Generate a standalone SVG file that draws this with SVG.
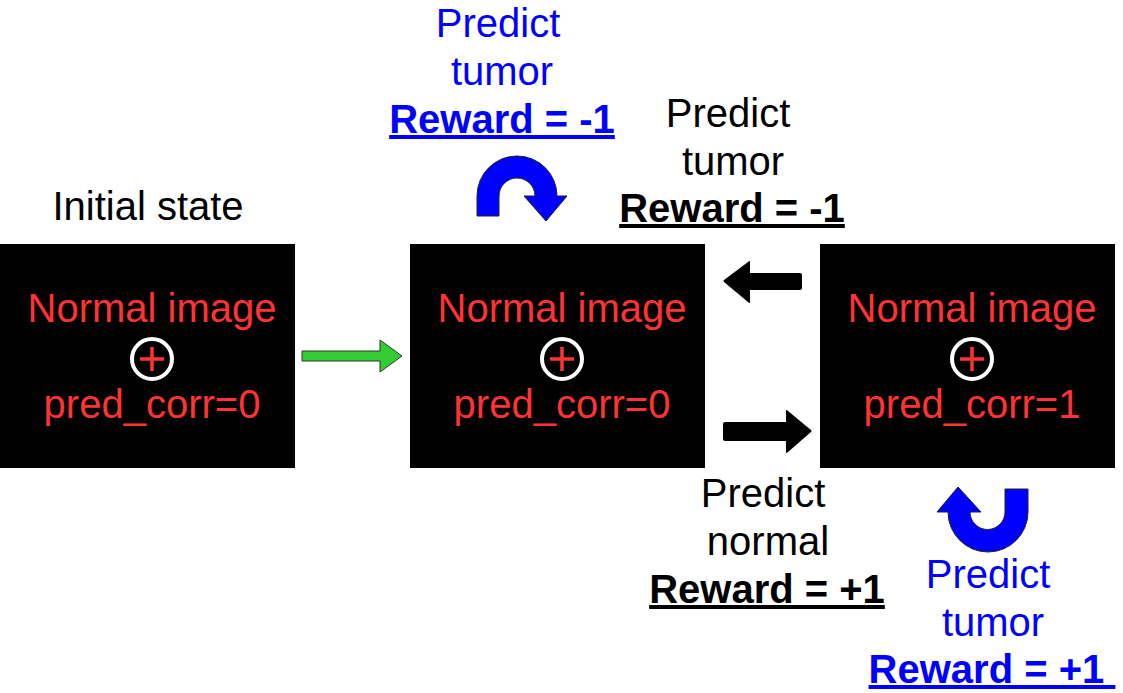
<svg xmlns="http://www.w3.org/2000/svg" width="1123" height="693" viewBox="0 0 1123 693">
<style>
text{font-family:"Liberation Sans",Arial,sans-serif;font-size:40px;text-anchor:middle}
.red{fill:#ff3333}
.blk{fill:#000}
.blu{fill:#0000ff}
.rw{font-weight:bold;text-decoration:underline}
.box{fill:#000}
.ring{fill:none;stroke:#fff;stroke-width:4}
.plus{stroke:#ff3333;stroke-width:3.5}
</style>
<rect width="1123" height="693" fill="#fff"/>
<g id="node-initial">
<rect class="box" x="0" y="244" width="295" height="224"/>
<text class="red" x="152" y="322">Normal image</text>
<circle class="ring" cx="152" cy="359" r="20"/>
<path class="plus" d="M140,359H164M152,347V371"/>
<text class="red" x="152" y="418">pred_corr=0</text>
</g>
<g id="node-state2">
<rect class="box" x="410" y="244" width="295" height="224"/>
<text class="red" x="562" y="322">Normal image</text>
<circle class="ring" cx="562" cy="359" r="20"/>
<path class="plus" d="M550,359H574M562,347V371"/>
<text class="red" x="562" y="418">pred_corr=0</text>
</g>
<g id="node-state3">
<rect class="box" x="820" y="244" width="295" height="224"/>
<text class="red" x="972" y="322">Normal image</text>
<circle class="ring" cx="972" cy="359" r="20"/>
<path class="plus" d="M960,359H984M972,347V371"/>
<text class="red" x="972" y="418">pred_corr=1</text>
</g>
<g id="label-initial">
<text class="blk" x="148" y="220">Initial state</text>
</g>
<g id="connectors">
<path d="M302,351H380V340L402,356L380,372V361H302Z" fill="#33cc33" stroke="#333" stroke-width="1"/>
<path d="M802,275Q802,273 800,273H750V262Q750,260 748,262L724,280Q723,281 724,282L748,302Q750,304 750,302V290H800Q802,290 802,288Z" fill="#000"/>
<path d="M723,424Q723,422 725,422H786V411Q786,409 788,411L811,430Q812,431 811,432L788,452Q786,454 786,452V441H725Q723,441 723,439Z" fill="#000"/>
<path d="M477,216V196A40,40 0 0 1 557,196H567L546,221L524,196H535A18,18 0 0 0 499,196V216Z" fill="#0000ff" stroke="#222" stroke-width="1"/>
<path d="M1028,489V512A40,40 0 0 1 948,512H937L958,487L981,512H970A17.5,17.5 0 0 0 1005,512V489Z" fill="#0000ff" stroke="#222" stroke-width="1"/>
</g>
<g id="label-top-self">
<text class="blu" x="498" y="37">Predict</text>
<text class="blu" x="502" y="85">tumor</text>
<text class="blu rw" x="502" y="133">Reward = -1</text>
</g>
<g id="label-back">
<text class="blk" x="728" y="127">Predict</text>
<text class="blk" x="733" y="175">tumor</text>
<text class="blk rw" x="732" y="222">Reward = -1</text>
</g>
<g id="label-forward">
<text class="blk" x="763" y="507">Predict</text>
<text class="blk" x="768" y="555">normal</text>
<text class="blk rw" x="767" y="603">Reward = +1</text>
</g>
<g id="label-bottom-self">
<text class="blu" x="988" y="588">Predict</text>
<text class="blu" x="993" y="636">tumor</text>
<text class="blu rw" x="992" y="683" xml:space="preserve">Reward = +1 </text>
</g>
</svg>
